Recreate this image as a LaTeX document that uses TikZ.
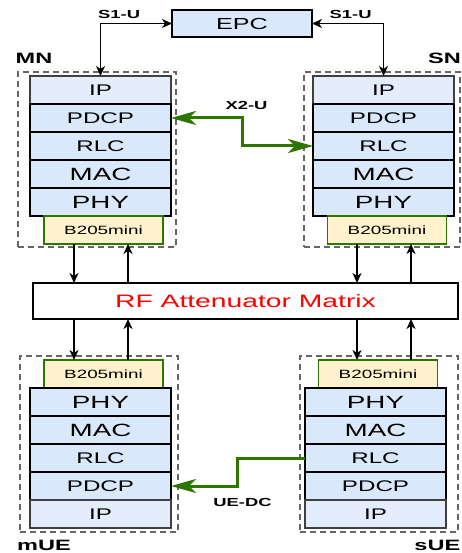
\documentclass[tikz,border=0pt]{standalone}
\usepackage{fontspec}
\newfontfamily\wsans[FakeStretch=1.57]{Liberation Sans}
\usetikzlibrary{arrows.meta,positioning}
\newcommand{\fsz}[1]{\fontsize{#1}{#1}\selectfont}
\definecolor{layerblue}{HTML}{DAE8FC}
\definecolor{ipblue}{HTML}{E3EDFB}
\definecolor{usrpyellow}{HTML}{FFF2CC}
\definecolor{linkgreen}{HTML}{2D7600}
\definecolor{groupgray}{HTML}{666666}

\begin{document}
\begin{tikzpicture}[
    x=1pt, y=-1pt,
    node distance=0pt,
    layer/.style={draw, line width=1.5pt, fill=layerblue, outer sep=0pt, inner sep=0pt,
                  minimum width=141pt, minimum height=28pt, font=\wsans\fsz{15.4}},
    biglayer/.style={layer, font=\wsans\fsz{17.7}},
    iplayer/.style={layer, fill=ipblue, draw=black!75},
    usrp/.style={draw=linkgreen, line width=1.5pt, fill=usrpyellow, outer sep=0pt, inner sep=0pt,
                 minimum width=119pt, minimum height=28pt, font=\wsans\fsz{12}},
    epcbox/.style={layer, minimum width=140pt, minimum height=27pt, font=\wsans\fsz{16}},
    rfbox/.style={draw, line width=1.5pt, fill=white, outer sep=0pt, minimum width=425pt,
                  minimum height=36pt, text=red, font=\wsans\fsz{18}},
    stackbox/.style={draw=groupgray, line width=1.5pt, dash pattern=on 6pt off 4pt,
                     inner sep=0pt, outer sep=0pt},
    glabel/.style={font=\wsans\bfseries\fsz{15}, inner sep=0pt},
    ilabel/.style={font=\wsans\bfseries\fsz{11.7}, inner sep=0pt},
    arrow/.style={-{Stealth[length=10pt,width=9pt,inset=3pt]}, line width=1.6pt},
    biarrow/.style={{Stealth[length=10pt,width=9pt,inset=3pt]}-{Stealth[length=10pt,width=9pt,inset=3pt]},
                    line width=1.6pt},
    xlink/.style={draw=linkgreen, line width=3pt,
                  {Stealth[length=25pt,width=14pt,inset=7pt]}-{Stealth[length=25pt,width=14pt,inset=7pt]}},
    uelink/.style={draw=linkgreen, line width=3pt, -{Stealth[length=25pt,width=14pt,inset=7pt]}}
]
\useasboundingbox (0,0) rectangle (462,553);

% dashed node groups
\node[stackbox, minimum width=158pt, minimum height=175pt] (mnbox) at (97,159.5) {};
\node[stackbox, minimum width=156pt, minimum height=175pt] (snbox) at (382,159.5) {};
\node[stackbox, minimum width=158pt, minimum height=176pt] (muebox) at (99,444) {};
\node[stackbox, minimum width=158pt, minimum height=176pt] (suebox) at (379,444) {};

\node[glabel, above right=8pt and -2.5pt of mnbox.north west] (mnlabel) {MN};
\node[glabel, above left=8pt and -1pt of snbox.north east] (snlabel) {SN};
\node[glabel, below right=7.5pt and -3pt of muebox.south west] (muelabel) {mUE};
\node[glabel, below left=7.5pt and -2.5pt of suebox.south east] (suelabel) {sUE};

\node[epcbox] (epc) at (242,23.5) {EPC};
\node[rfbox] (rf) at (245.5,301) {RF Attenuator Matrix};

% MN stack
\node[iplayer] (mnip) at (100.5,90) {IP};
\node[layer, below=of mnip] (mnpdcp) {PDCP};
\node[layer, below=of mnpdcp] (mnrlc) {RLC};
\node[biglayer, below=of mnrlc] (mnmac) {MAC};
\node[biglayer, below=of mnmac] (mnphy) {PHY};
\node[usrp, below=of mnphy, xshift=3pt] (mnb) {B205mini};

% SN stack
\node[iplayer] (snip) at (383.5,90) {IP};
\node[layer, below=of snip] (snpdcp) {PDCP};
\node[layer, below=of snpdcp] (snrlc) {RLC};
\node[biglayer, below=of snrlc] (snmac) {MAC};
\node[biglayer, below=of snmac] (snphy) {PHY};
\node[usrp, below=of snphy, xshift=3.5pt] (snb) {B205mini};

% mUE stack
\node[usrp] (ueb) at (103.5,374) {B205mini};
\node[biglayer, below=of ueb, xshift=-3pt] (uephy) {PHY};
\node[biglayer, below=of uephy] (uemac) {MAC};
\node[layer, below=of uemac] (uerlc) {RLC};
\node[layer, below=of uerlc] (uepdcp) {PDCP};
\node[iplayer, below=of uepdcp] (ueip) {IP};

% sUE stack
\node[usrp] (sueb) at (378,374) {B205mini};
\node[biglayer, below=of sueb, xshift=-2.5pt] (suephy) {PHY};
\node[biglayer, below=of suephy] (suemac) {MAC};
\node[layer, below=of suemac] (suerlc) {RLC};
\node[layer, below=of suerlc] (suepdcp) {PDCP};
\node[iplayer, below=of suepdcp] (sueip) {IP};

% core links
\draw[biarrow] (epc.west) -| node[ilabel, pos=0.37, above=4pt] {S1-U} (mnip.north);
\draw[biarrow] (epc.east) -| node[ilabel, pos=0.27, above=4pt] {S1-U} (snip.north);

\draw[xlink] (mnpdcp.east) -- ++(71,0) node[ilabel, pos=1, above=7pt, xshift=4.5pt] {X2-U} |- (snrlc.west);
\draw[uelink] (suerlc.west) -- ++(-68,0) |- node[ilabel, pos=0.5, below=11pt, xshift=5.5pt] {UE-DC} (uepdcp.east);

% RF paths
\coordinate (mdl) at (74,0);
\coordinate (mul) at (128,0);
\coordinate (sdl) at (357,0);
\coordinate (sul) at (411,0);

\draw[arrow] (mnb.south -| mdl) -- (rf.north -| mdl);
\draw[arrow] (rf.north -| mul) -- (mnb.south -| mul);
\draw[arrow] (snb.south -| sdl) -- (rf.north -| sdl);
\draw[arrow] (rf.north -| sul) -- (snb.south -| sul);

\draw[arrow] (rf.south -| mdl) -- (ueb.north -| mdl);
\draw[arrow] (ueb.north -| mul) -- (rf.south -| mul);
\draw[arrow] (rf.south -| sdl) -- (sueb.north -| sdl);
\draw[arrow] (sueb.north -| sul) -- (rf.south -| sul);

\end{tikzpicture}
\end{document}
